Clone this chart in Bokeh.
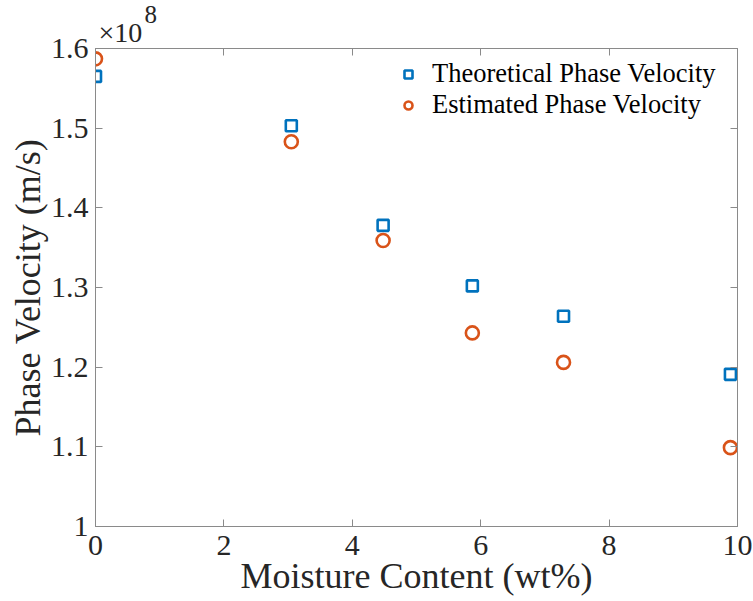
from bokeh.plotting import figure
from bokeh.models import (Range1d, FixedTicker, LinearAxis, Legend, LegendItem,
                          CustomJSTickFormatter, Title)
from bokeh.embed import file_html
from bokeh.resources import INLINE

# Data (phase velocity in units of 1e8 m/s)
moisture = [0.0, 3.05, 4.48, 5.87, 7.29, 9.89]
theoretical = [1.565, 1.503, 1.378, 1.302, 1.264, 1.191]
estimated = [1.587, 1.483, 1.359, 1.243, 1.206, 1.099]
x_ticks = [0, 2, 4, 6, 8, 10]
y_ticks = [1.0, 1.1, 1.2, 1.3, 1.4, 1.5, 1.6]

FONT = "Liberation Serif"
AX = "#8a8a8a"
TXT = "#262626"
BLUE = "#0072BD"
ORANGE = "#D95319"

p = figure(width=753, height=601, output_backend="svg", toolbar_location=None,
           x_range=Range1d(0, 10), y_range=Range1d(1.0, 1.6),
           min_border_left=95, min_border_right=16, min_border_top=48, min_border_bottom=75)
p.background_fill_color = "white"
p.border_fill_color = "white"
p.outline_line_color = AX
p.grid.visible = False

r1 = p.scatter(moisture, theoretical, marker="square", size=11, line_width=2.6,
               line_color=BLUE, fill_color=None)
r2 = p.scatter(moisture, estimated, marker="circle", size=13, line_width=2.6,
               line_color=ORANGE, fill_color=None)

def style(ax, show_labels=True):
    ax.axis_line_color = AX
    ax.major_tick_line_color = AX
    ax.major_tick_in = 7
    ax.major_tick_out = 0
    ax.minor_tick_line_color = None
    ax.major_label_text_font = FONT
    ax.major_label_text_color = TXT
    ax.axis_label_text_font = FONT
    ax.axis_label_text_font_style = "normal"
    ax.axis_label_text_color = TXT
    if not show_labels:
        ax.formatter = CustomJSTickFormatter(code="return '';")
        ax.major_label_text_font_size = "1px"
        ax.major_label_standoff = 0

xa = p.xaxis[0]
ya = p.yaxis[0]
style(xa)
style(ya)
xa.ticker = FixedTicker(ticks=x_ticks)
ya.ticker = FixedTicker(ticks=y_ticks)
ya.major_label_overrides = {1.0: "1"}
xa.major_label_text_font_size = "30px"
ya.major_label_text_font_size = "30px"
xa.axis_label = "Moisture Content (wt%)"
ya.axis_label = "Phase Velocity (m/s)"
xa.axis_label_text_font_size = "36px"
ya.axis_label_text_font_size = "36px"
xa.major_label_standoff = 9
ya.major_label_standoff = 7
xa.axis_label_standoff = -2
ya.axis_label_standoff = 0

top = LinearAxis(ticker=FixedTicker(ticks=x_ticks))
right = LinearAxis(ticker=FixedTicker(ticks=y_ticks))
style(top, False)
style(right, False)
p.add_layout(top, "above")
p.add_layout(right, "right")

# axis multiplier "×10^8"
p.add_layout(Title(text="×10", align="left", offset=3, standoff=2,
                   text_font=FONT, text_font_size="28px", text_color=TXT,
                   text_font_style="normal"), "above")
p.add_layout(Title(text="8", align="left", offset=49, standoff=-18,
                   text_font=FONT, text_font_size="25px", text_color=TXT,
                   text_font_style="normal"), "above")

legend = Legend(items=[LegendItem(label="Theoretical Phase Velocity", renderers=[r1]),
                       LegendItem(label="Estimated Phase Velocity", renderers=[r2])],
                location=(303, 406), border_line_color=None, background_fill_alpha=0,
                label_text_font=FONT, label_text_font_size="26.5px", label_text_color="black",
                glyph_width=20, glyph_height=20, label_standoff=14, spacing=-2,
                padding=4, margin=0)
p.add_layout(legend)

open("out.html", "w").write(file_html(p, INLINE))
